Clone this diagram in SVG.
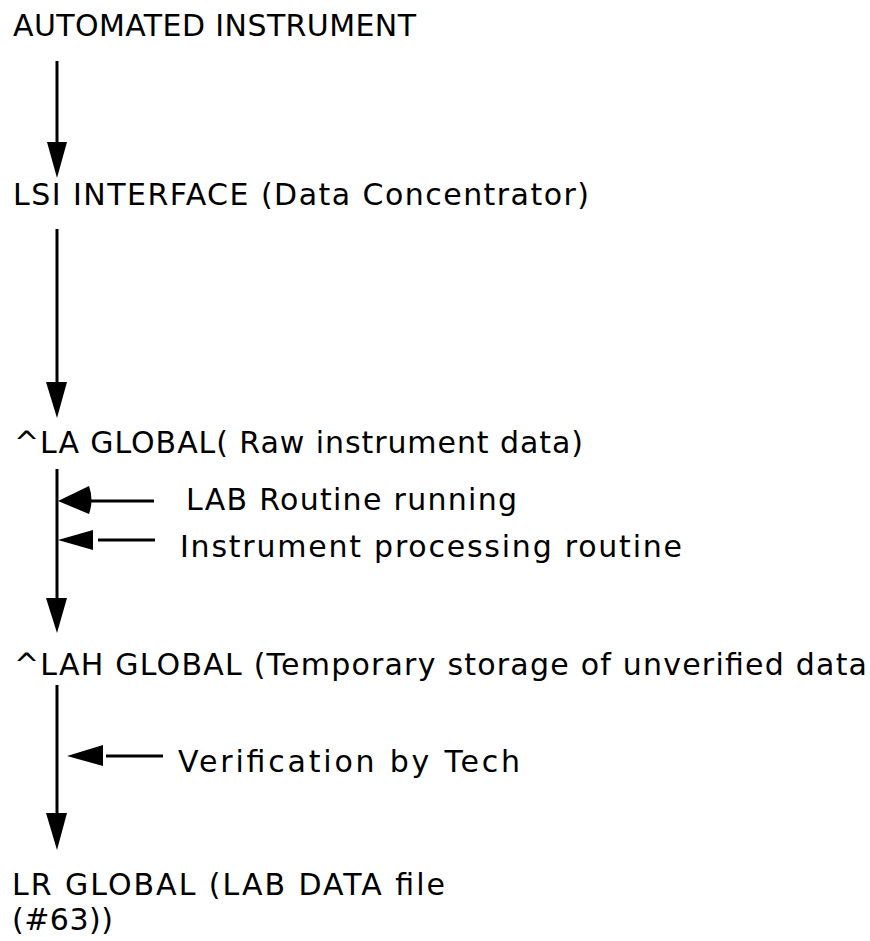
<svg xmlns="http://www.w3.org/2000/svg" width="870" height="941" viewBox="0 0 870 941">
<style>
text { font-family: "DejaVu Sans", Verdana, sans-serif; font-size: 30px; fill: #000; }
.ln { stroke: #000; stroke-width: 3; fill: none; }
.hd { fill: #000; stroke: none; }
</style>
<rect x="0" y="0" width="870" height="941" fill="#fff"/>
<g id="n1"><text x="13" y="36" textLength="403" lengthAdjust="spacing">AUTOMATED INSTRUMENT</text></g>
<g id="n2"><text x="13" y="205" textLength="576" lengthAdjust="spacing">LSI INTERFACE (Data Concentrator)</text></g>
<g id="n3"><text x="14" y="453" textLength="569" lengthAdjust="spacing">^LA GLOBAL( Raw instrument data)</text></g>
<g id="n4"><text x="186" y="510" textLength="331" lengthAdjust="spacing">LAB Routine running</text></g>
<g id="n5"><text x="180" y="557" textLength="502" lengthAdjust="spacing">Instrument processing routine</text></g>
<g id="n6"><text x="14" y="675" textLength="853" lengthAdjust="spacing">^LAH GLOBAL (Temporary storage of unverified data</text></g>
<g id="n7"><text x="178" y="772" textLength="342" lengthAdjust="spacing">Verification by Tech</text></g>
<g id="n8"><text x="12" y="895" textLength="433" lengthAdjust="spacing">LR GLOBAL (LAB DATA file</text><text x="12" y="930" textLength="101" lengthAdjust="spacing">(#63))</text></g>
<g id="connectors">
<line class="ln" x1="57" y1="61" x2="57" y2="150"/>
<polygon class="hd" points="47,142 67,142 57,178"/>
<line class="ln" x1="57" y1="229" x2="57" y2="390"/>
<polygon class="hd" points="46,382 67,382 57,418"/>
<line class="ln" x1="57" y1="469" x2="57" y2="605"/>
<polygon class="hd" points="46,598 67,598 57,633"/>
<line class="ln" x1="57" y1="685" x2="57" y2="820"/>
<polygon class="hd" points="46,813 67,813 57,850"/>
<line class="ln" x1="88" y1="501" x2="154" y2="501"/>
<path class="hd" d="M58,501 L89,486 Q94,500 89,514 Z"/>
<line class="ln" x1="98" y1="540" x2="155" y2="540"/>
<polygon class="hd" points="58,540 93,530 93,550"/>
<line class="ln" x1="106" y1="756" x2="163" y2="756"/>
<polygon class="hd" points="67,756 103,745 103,766"/>
</g>
</svg>
